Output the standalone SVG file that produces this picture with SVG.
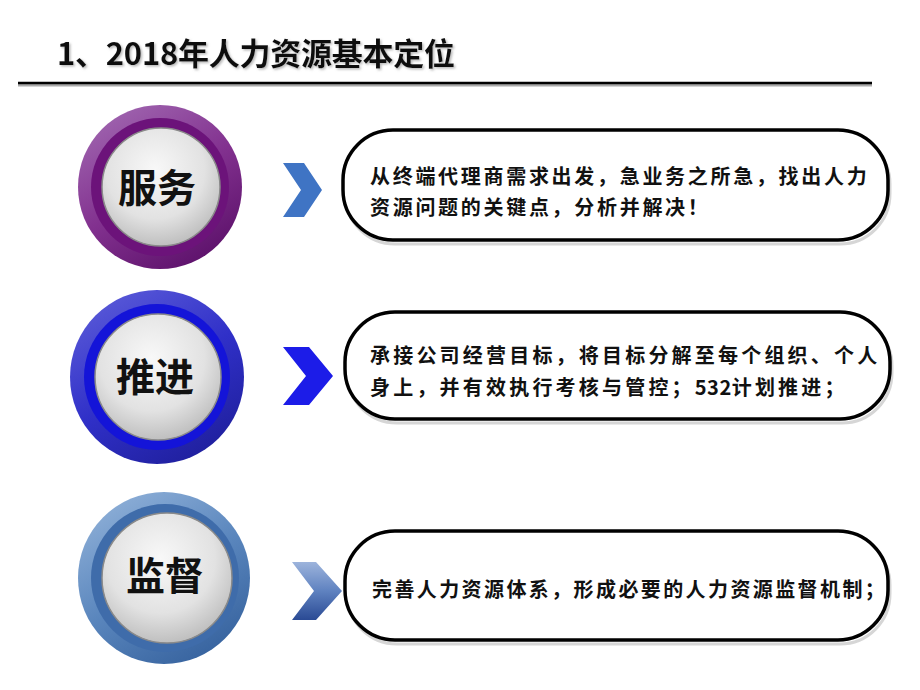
<svg xmlns="http://www.w3.org/2000/svg" width="920" height="690" viewBox="0 0 920 690">
<defs>
<style>
.title{font-family:"Noto Sans CJK SC","Liberation Sans",sans-serif;font-weight:bold;font-size:31px;fill:#111}
.lbl{font-family:"Noto Sans CJK SC",sans-serif;font-weight:bold;font-size:39px;fill:#111;text-anchor:middle}
.body{font-family:"Noto Sans CJK SC",sans-serif;font-weight:bold;font-size:20px;fill:#111}
.box{fill:#fff;stroke:#000;stroke-width:3.5}
.boxsh{fill:none;stroke:#bbb;stroke-width:3;opacity:0.6}
.btn{fill:url(#gBtn);stroke:#8a8a8a;stroke-width:1.5}
</style>
<filter id="tsh" x="-5%" y="-20%" width="110%" height="150%">
<feDropShadow dx="1.5" dy="1.5" stdDeviation="0.8" flood-color="#888" flood-opacity="0.6"/>
</filter>
<radialGradient id="gBtn" cx="0.45" cy="0.35" r="0.7">
<stop offset="0" stop-color="#f8f8f8"/>
<stop offset="0.6" stop-color="#e2e2e2"/>
<stop offset="1" stop-color="#b8b8b8"/>
</radialGradient>
<linearGradient id="gP" x1="0.2" y1="0" x2="0.8" y2="1">
<stop offset="0" stop-color="#a066b0"/>
<stop offset="0.5" stop-color="#82318f"/>
<stop offset="1" stop-color="#5a0f68"/>
</linearGradient>
<linearGradient id="gB" x1="0.2" y1="0" x2="0.8" y2="1">
<stop offset="0" stop-color="#5a5ad8"/>
<stop offset="0.5" stop-color="#3030c8"/>
<stop offset="1" stop-color="#1e1e9a"/>
</linearGradient>
<linearGradient id="gS" x1="0.2" y1="0" x2="0.8" y2="1">
<stop offset="0" stop-color="#8fb0d8"/>
<stop offset="0.5" stop-color="#5a86bd"/>
<stop offset="1" stop-color="#34609c"/>
</linearGradient>
<linearGradient id="gCh3" x1="0" y1="0" x2="0" y2="1">
<stop offset="0" stop-color="#9db4dc"/>
<stop offset="0.5" stop-color="#5f82c0"/>
<stop offset="1" stop-color="#2a4a94"/>
</linearGradient>
</defs>

<g id="title">
<text class="title" x="57" y="65" textLength="398" lengthAdjust="spacing" filter="url(#tsh)">1、2018年人力资源基本定位</text>
<line x1="18" y1="85" x2="872" y2="85" stroke="#aaa" stroke-width="3"/>
<line x1="18" y1="83" x2="872" y2="83" stroke="#000" stroke-width="2.5"/>
</g>

<g id="node-fuwu">
<circle cx="160" cy="187" r="82" fill="url(#gP)"/>
<circle cx="160" cy="187" r="69" fill="#6c137a"/>
<circle cx="161" cy="187" r="59" class="btn"/>
<text class="lbl" x="157" y="202">服务</text>
</g>

<g id="node-tuijin">
<circle cx="157" cy="377" r="87" fill="url(#gB)"/>
<circle cx="157" cy="377" r="73" fill="#1414d8"/>
<circle cx="158" cy="377" r="63" class="btn"/>
<text class="lbl" x="155" y="391">推进</text>
</g>

<g id="node-jiandu">
<circle cx="164" cy="578" r="86" fill="url(#gS)"/>
<circle cx="165" cy="578" r="74" fill="#3f6caa"/>
<circle cx="167" cy="578" r="65" class="btn"/>
<text class="lbl" x="165" y="590">监督</text>
</g>

<g id="connectors">
<polygon points="283,163 304,163 322,190 304,217 283,217 301,190" fill="#3f74c4"/>
<polygon points="283,347 309,347 333,376 309,405 283,405 306,376" fill="#1c1ce8"/>
<polygon points="292,562 316,562 342,591 316,620 292,620 314,591" fill="url(#gCh3)"/>
</g>

<g id="box-fuwu">
<rect class="boxsh" x="345" y="134" width="545" height="110" rx="50"/>
<rect class="box" x="343" y="130" width="545" height="110" rx="50"/>
<text class="body" x="370" y="184" letter-spacing="2.7">从终端代理商需求出发，急业务之所急，找出人力</text>
<text class="body" x="370" y="215" letter-spacing="2.7">资源问题的关键点，分析并解决！</text>
</g>

<g id="box-tuijin">
<rect class="boxsh" x="347" y="316" width="545" height="107" rx="50"/>
<rect class="box" x="345" y="312" width="545" height="107" rx="50"/>
<text class="body" x="370" y="363" letter-spacing="3.2">承接公司经营目标，将目标分解至每个组织、个人</text>
<text class="body" x="370" y="395" letter-spacing="3.2">身上，并有效执行考核与管控；<tspan letter-spacing="0.5">532</tspan>计划推进；</text>
</g>

<g id="box-jiandu">
<rect class="boxsh" x="347" y="535" width="543" height="109" rx="50"/>
<rect class="box" x="345" y="531" width="543" height="109" rx="50"/>
<text class="body" x="372" y="597" letter-spacing="2.4">完善人力资源体系，形成必要的人力资源监督机制；</text>
</g>
</svg>
